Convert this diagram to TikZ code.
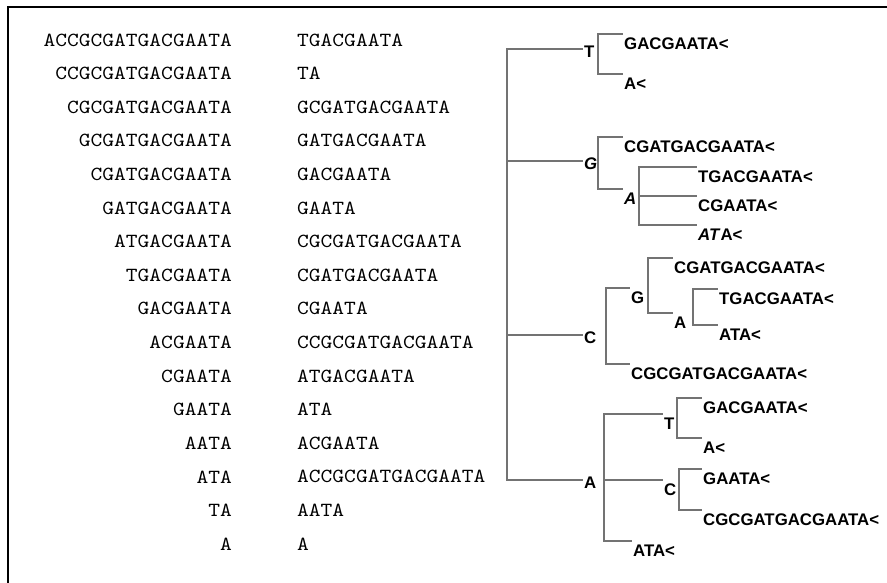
\documentclass[tikz,border=0pt]{standalone}
\usepackage{fontspec}
\setsansfont{Liberation Sans}
\setmonofont{lmmono10-regular.otf}[FakeStretch=1.12]
\begin{document}
\begin{tikzpicture}[x=1pt,y=-1pt,
    seq/.style={font=\ttfamily\fontsize{20}{22}\selectfont, inner sep=0pt},
    lab/.style={font=\sffamily\bfseries\fontsize{16.8}{18}\selectfont, inner xsep=1pt, inner ysep=0pt},
    top/.style={lab, anchor=west},
    hang/.style={lab, anchor=north west, text height=11.8pt, text depth=0pt, inner ysep=3.2pt},
    branch/.style={draw=black!55, line width=1.3pt}]
  \useasboundingbox (0,0) rectangle (887,583);
  \draw[line width=2pt] (887,7) -- (8,7) -- (8,583);
  % suffixes in text order
  \draw
    (232,40.0) node[seq,anchor=east] (s1){ACCGCGATGACGAATA}
    (232,73.6) node[seq,anchor=east] (s2){CCGCGATGACGAATA}
    (232,107.2) node[seq,anchor=east] (s3){CGCGATGACGAATA}
    (232,140.8) node[seq,anchor=east] (s4){GCGATGACGAATA}
    (232,174.4) node[seq,anchor=east] (s5){CGATGACGAATA}
    (232,208.0) node[seq,anchor=east] (s6){GATGACGAATA}
    (232,241.6) node[seq,anchor=east] (s7){ATGACGAATA}
    (232,275.2) node[seq,anchor=east] (s8){TGACGAATA}
    (232,308.8) node[seq,anchor=east] (s9){GACGAATA}
    (232,342.4) node[seq,anchor=east] (s10){ACGAATA}
    (232,376.0) node[seq,anchor=east] (s11){CGAATA}
    (232,409.6) node[seq,anchor=east] (s12){GAATA}
    (232,443.2) node[seq,anchor=east] (s13){AATA}
    (232,476.8) node[seq,anchor=east] (s14){ATA}
    (232,510.4) node[seq,anchor=east] (s15){TA}
    (232,544.0) node[seq,anchor=east] (s16){A};
  % second column
  \draw
    (297,40.0) node[seq,anchor=west] (p1){TGACGAATA}
    (297,73.6) node[seq,anchor=west] (p2){TA}
    (297,107.2) node[seq,anchor=west] (p3){GCGATGACGAATA}
    (297,140.8) node[seq,anchor=west] (p4){GATGACGAATA}
    (297,174.4) node[seq,anchor=west] (p5){GACGAATA}
    (297,208.0) node[seq,anchor=west] (p6){GAATA}
    (297,241.6) node[seq,anchor=west] (p7){CGCGATGACGAATA}
    (297,275.2) node[seq,anchor=west] (p8){CGATGACGAATA}
    (297,308.8) node[seq,anchor=west] (p9){CGAATA}
    (297,342.4) node[seq,anchor=west] (p10){CCGCGATGACGAATA}
    (297,376.0) node[seq,anchor=west] (p11){ATGACGAATA}
    (297,409.6) node[seq,anchor=west] (p12){ATA}
    (297,443.2) node[seq,anchor=west] (p13){ACGAATA}
    (297,476.8) node[seq,anchor=west] (p14){ACCGCGATGACGAATA}
    (297,510.4) node[seq,anchor=west] (p15){AATA}
    (297,544.0) node[seq,anchor=west] (p16){A};
  % tree
  \coordinate (root) at (507,264);
  \node[top] (T1) at (583,52) {T};
  \node[top] (G1) at (583,164) {\textit{G}};
  \node[top] (C1) at (583,338) {C};
  \node[top] (A1) at (583,483) {A};
  \coordinate (T1s) at (598,52);
  \node[hang] (T1a) at (623,34) {GACGAATA<};
  \node[hang] (T1b) at (623,74) {A<};
  \coordinate (G1s) at (598,164);
  \node[hang] (G1a) at (623,137) {CGATGACGAATA<};
  \node[hang] (A2) at (623,189) {\textit{A}};
  \coordinate (A2s) at (639,198);
  \node[hang] (A2a) at (697,167) {TGACGAATA<};
  \node[hang] (A2b) at (697,196) {CGAATA<};
  \node[hang] (A2c) at (697,225) {\textit{AT}A<};
  \coordinate (C1s) at (606,338);
  \node[hang] (G2) at (630,288) {G};
  \node[hang] (C1b) at (630,364) {CGCGATGACGAATA<};
  \coordinate (G2s) at (648,297);
  \node[hang] (G2a) at (673,258) {CGATGACGAATA<};
  \node[hang] (A3) at (673,313) {A};
  \coordinate (A3s) at (693,322);
  \node[hang] (A3a) at (718,289) {TGACGAATA<};
  \node[hang] (A3b) at (718,325) {ATA<};
  \coordinate (A1s) at (604,483);
  \node[hang] (T3) at (663,414) {T};
  \node[hang] (C3) at (663,480) {C};
  \node[hang] (A1c) at (632,541) {ATA<};
  \coordinate (T3s) at (677,423);
  \node[hang] (T3a) at (702,398) {GACGAATA<};
  \node[hang] (T3b) at (702,438) {A<};
  \coordinate (C3s) at (679,489);
  \node[hang] (C3a) at (702,469) {GAATA<};
  \node[hang] (C3b) at (702,510) {CGCGATGACGAATA<};
  \begin{scope}[branch]
    \draw (root) |- ([yshift=3pt]T1.west);
    \draw (root) |- ([yshift=3pt]G1.west);
    \draw (root) |- ([yshift=3pt]C1.west);
    \draw (root) |- ([yshift=3pt]A1.west);
    \draw (T1s) |- (T1a.north west);
    \draw (T1s) |- (T1b.north west);
    \draw (G1s) |- (G1a.north west);
    \draw (G1s) |- (A2.north west);
    \draw (A2s) |- (A2a.north west);
    \draw (A2s) |- (A2b.north west);
    \draw (A2s) |- (A2c.north west);
    \draw (C1s) |- (G2.north west);
    \draw (C1s) |- (C1b.north west);
    \draw (G2s) |- (G2a.north west);
    \draw (G2s) |- (A3.north west);
    \draw (A3s) |- (A3a.north west);
    \draw (A3s) |- (A3b.north west);
    \draw (A1s) |- (T3.north west);
    \draw (A1s) |- (C3.north west);
    \draw (A1s) |- (A1c.north west);
    \draw (T3s) |- (T3a.north west);
    \draw (T3s) |- (T3b.north west);
    \draw (C3s) |- (C3a.north west);
    \draw (C3s) |- (C3b.north west);
  \end{scope}
\end{tikzpicture}
\end{document}
